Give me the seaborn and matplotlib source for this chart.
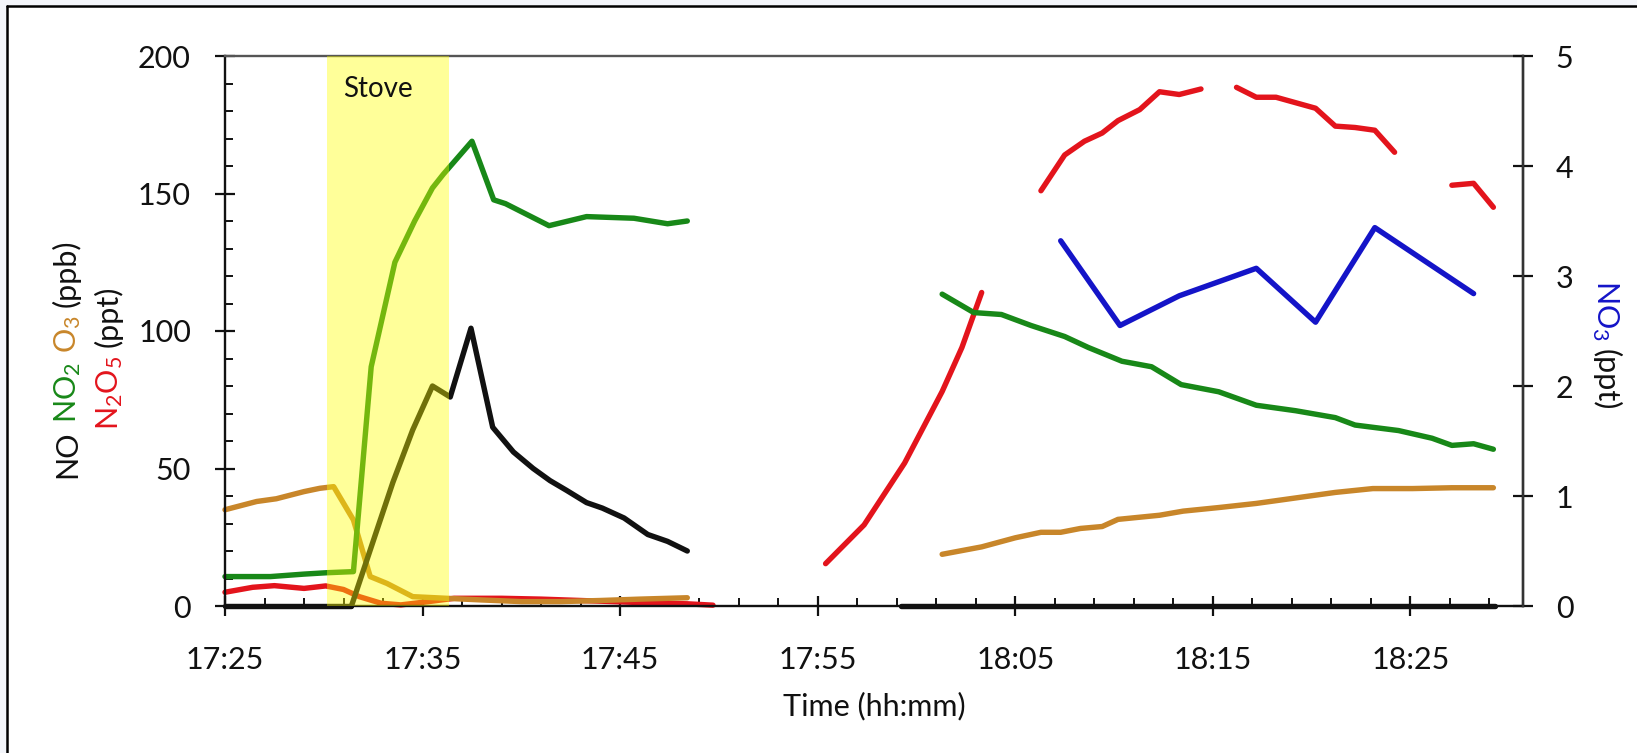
import numpy as np
import pandas as pd
import matplotlib
matplotlib.use("Agg")
import matplotlib.pyplot as plt
import matplotlib.transforms as mtransforms
from matplotlib.patches import Rectangle
from matplotlib.lines import Line2D
from matplotlib.ticker import MultipleLocator
import seaborn as sns

sns.set_theme(style="white")
plt.rcParams["font.family"] = ["Lato", "DejaVu Sans"]
plt.rcParams["mathtext.default"] = "regular"

NAN = np.nan
# time in minutes after 17:25 ; NaN marks a gap in the record
no_t = [0, 6.4, NAN, 6.4, 8.5, 9.5, 10.5, 11.4, 12.45, 13.55, 14.6, 15.6, 16.45, 17.3,
        18.3, 19.1, 20.2, 21.4, 22.4, 23.4, NAN, 34.2, 64.3]
no_v = [0, 0, NAN, 0, 45, 64, 80, 76, 101, 65, 56, 50, 45.6, 42,
        37.6, 35.6, 32, 26, 23.5, 20, NAN, 0, 0]

no2_t = [0, 2.3, 4, 5.15, 6.5, 7.4, 8.6, 9.6, 10.5, 11.05, 12.5, 13.6, 14.2, 15.3, 16.4,
         18.3, 20.7, 22.4, 23.4, NAN,
         36.3, 37.9, 39.3, 40.8, 42.5, 43.7, 45.4, 46.9, 48.4, 50.3, 52.2, 54.2, 56.2,
         57.2, 59.4, 61.1, 62.1, 63.2, 64.2]
no2_v = [10.7, 10.7, 11.6, 12.1, 12.5, 87, 125, 140, 152, 157, 169, 147.7, 146.3, 142.3, 138.3,
         141.6, 141, 139, 140, NAN,
         113.4, 106.7, 106, 102, 98, 94, 89, 87, 80.5, 77.9, 73, 71, 68.5,
         65.8, 63.8, 61, 58.4, 59, 57]

o3_t = [0, 1.6, 2.6, 4.0, 4.8, 5.5, 6.5, 7.35, 8.2, 9.5, 11.2, 13, 15, 17, 19, 21, 23.4, NAN,
        36.3, 38.3, 40.0, 41.3, 42.3, 43.3, 44.4, 45.2, 47.3, 48.5, 50.3, 52.2, 54.2, 56.2,
        58.1, 60.1, 62.1, 64.2]
o3_v = [35, 38, 39, 41.6, 42.8, 43.4, 31.3, 10.7, 8.2, 3.4, 2.8, 2.2, 1.6, 1.6, 2, 2.5, 3, NAN,
        18.8, 21.5, 24.8, 26.8, 26.8, 28.2, 28.9, 31.5, 33, 34.5, 35.8, 37.3, 39.3, 41.3,
        42.7, 42.7, 43, 43]

n2o5_t = [0, 1.4, 2.5, 4, 5.1, 6, 6.8, 7.9, 8.9, 10.3, 11.6, 14, 16, 18, 20, 22, 23.4, 24.7, NAN,
          30.4, 32.35, 34.4, 36.3, 37.3, 38.3, NAN,
          41.3, 42.5, 43.5, 44.4, 45.2, 46.3, 47.3, 48.3, 49.4, NAN,
          51.2, 52.2, 53.2, 54.2, 55.2, 56.2, 57.2, 58.2, 59.2, NAN,
          62.1, 63.2, 64.2]
n2o5_v = [5, 6.8, 7.4, 6.4, 7.3, 6, 3.4, 1, 0.4, 1.6, 2.8, 2.8, 2.5, 2, 1.5, 1, 0.8, 0.3, NAN,
          15.4, 29.5, 52, 78, 94, 114, NAN,
          151, 164, 169, 172, 176.5, 180.5, 187, 186, 188, NAN,
          188.6, 185, 185, 183, 181, 174.5, 174, 173, 165, NAN,
          153, 153.7, 145]

no3_t = [42.3, 45.3, 48.3, 52.2, 55.2, 58.2, 63.2]
no3_v = [3.32, 2.55, 2.82, 3.07, 2.58, 3.44, 2.84]

stove_start, stove_end = 5.15, 11.35
xtick_pos = [0, 10, 20, 30, 40, 50, 60]
xtick_labels = ["17:25", "17:35", "17:45", "17:55", "18:05", "18:15", "18:25"]
left_ticks = [0, 50, 100, 150, 200]
right_ticks = [0, 1, 2, 3, 4, 5]

C_NO, C_NO2, C_O3, C_N2O5, C_NO3 = "#111111", "#188818", "#c8862a", "#e3141c", "#1414c8"


def segs(t, v):
    df = pd.DataFrame({"t": t, "v": v})
    df["seg"] = df["v"].isna().cumsum()
    return df.dropna()


W, H = 1637, 753
fig = plt.figure(figsize=(W / 100, H / 100), dpi=100, facecolor="#f3f5fa")
fig.add_artist(Rectangle((7 / W, 0), 1, 1 - 6 / H, transform=fig.transFigure,
                         facecolor="white", edgecolor="none", zorder=-10))
fig.add_artist(Line2D([7 / W, 7 / W], [0, 1 - 6 / H], transform=fig.transFigure, color="black", lw=1.8))
fig.add_artist(Line2D([7 / W, 1], [1 - 6 / H, 1 - 6 / H], transform=fig.transFigure, color="black", lw=1.8))

ax = fig.add_axes([225 / W, 1 - 606 / H, (1523 - 225) / W, (606 - 56) / H])
ax.set_facecolor("none")
LW = 3.9
for (t, v, c) in [(n2o5_t, n2o5_v, C_N2O5), (o3_t, o3_v, C_O3), (no_t, no_v, C_NO), (no2_t, no2_v, C_NO2)]:
    sns.lineplot(data=segs(t, v), x="t", y="v", units="seg", estimator=None, sort=False,
                 color=c, lw=LW, ax=ax, legend=False)
for ln in ax.lines:
    ln.set_clip_on(False)
    ln.set_solid_joinstyle("round")

ax.axvspan(stove_start, stove_end, color="#ffff00", alpha=0.4, lw=0, zorder=5)
ax.text(6.0, 188, "Stove", fontsize=20, ha="left", va="center", color="#111111", zorder=10)

ax.set_xlim(0, 65.7)
ax.set_ylim(0, 200)
ax.set_xticks(xtick_pos, xtick_labels)
ax.set_yticks(left_ticks)
ax.xaxis.set_minor_locator(MultipleLocator(2))
ax.yaxis.set_minor_locator(MultipleLocator(10))
ax.tick_params(axis="both", which="major", direction="inout", length=15, width=1.6,
               colors="#111111", labelsize=22)
ax.tick_params(axis="x", which="major", pad=21)
ax.tick_params(axis="y", which="major", pad=17)
ax.tick_params(axis="both", which="minor", direction="in", length=6, width=1.4, colors="#111111")
ax.tick_params(bottom=True, left=True, which="both")
ax.set_xlabel("Time (hh:mm)", fontsize=22, labelpad=13, color="#111111")
ax.set_ylabel("")
for side, col in [("left", "#111111"), ("bottom", "#111111"), ("top", "#555555"), ("right", "#333333")]:
    ax.spines[side].set_color(col)
    ax.spines[side].set_linewidth(1.7)

ax2 = ax.twinx()
sns.lineplot(x=no3_t, y=no3_v, color=C_NO3, lw=LW, ax=ax2, legend=False, estimator=None, sort=False)
ax2.set_ylim(0, 5)
ax2.set_yticks(right_ticks)
ax2.tick_params(axis="y", which="major", direction="inout", length=15, width=1.6,
                colors="#111111", labelsize=22, pad=16, right=True)
ax2.set_ylabel("")
for side in ["left", "bottom", "top"]:
    ax2.spines[side].set_visible(False)
ax2.spines["right"].set_color("#333333")
ax2.spines["right"].set_linewidth(1.7)
ax2.grid(False)
ax.grid(False)


def stacked_label(pieces, x_px, yc_px, rotation, size=22):
    tr = mtransforms.IdentityTransform()
    texts = [fig.text(0, 0, s, color=c, fontsize=size, rotation=rotation, rotation_mode="anchor",
                      ha="left", va="baseline", transform=tr) for s, c in pieces]
    fig.canvas.draw()
    r = fig.canvas.get_renderer()
    lens = [t.get_window_extent(r).height for t in texts]
    gap = 0.27 * size * 100 / 72
    total = sum(lens) + gap * (len(lens) - 1)
    yc = H - yc_px
    if rotation == 90:
        y = yc - total / 2
        for t, L in zip(texts, lens):
            t.set_position((x_px, y))
            y += L + gap
    else:
        y = yc + total / 2
        for t, L in zip(texts, lens):
            t.set_position((x_px, y))
            y -= L + gap


stacked_label([("NO", C_NO), ("NO$_2$", C_NO2), ("O$_3$", C_O3), ("(ppb)", C_NO)], 76, 359, 90)
stacked_label([("N$_2$O$_5$", C_N2O5), ("(ppt)", C_NO)], 118, 358, 90)
stacked_label([("NO$_3$", C_NO3), ("(ppt)", C_NO)], 1597, 345, 270)

fig.savefig("out.png", dpi=100, facecolor=fig.get_facecolor())
